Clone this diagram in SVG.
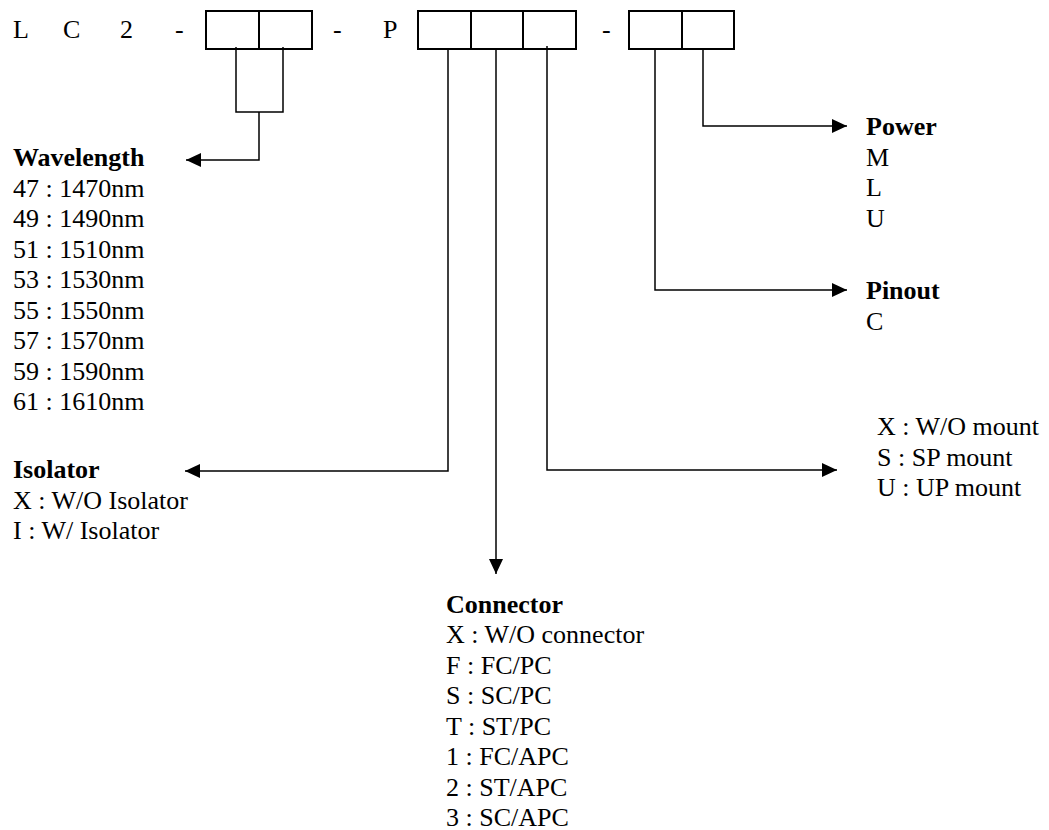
<svg xmlns="http://www.w3.org/2000/svg" width="1049" height="830" viewBox="0 0 1049 830">
<style>
text{font-family:"Liberation Serif","Times New Roman",serif;font-size:26px;fill:#000}
.b{font-weight:bold}
.box{fill:none;stroke:#000;stroke-width:2}
.ln{fill:none;stroke:#000;stroke-width:1.5}
</style>
<defs>
<marker id="ah" markerUnits="userSpaceOnUse" markerWidth="16" markerHeight="15" refX="15" refY="7" orient="auto">
<path d="M0,0 L15,7 L0,14 z" fill="#000"/>
</marker>
</defs>
<rect width="1049" height="830" fill="#fff"/>
<g id="code">
<text x="13" y="38">L</text>
<text x="63" y="38">C</text>
<text x="120" y="38">2</text>
<text x="175" y="38">-</text>
<rect class="box" x="206" y="11" width="106" height="38"/>
<line class="box" x1="259" y1="11" x2="259" y2="49"/>
<text x="333" y="38">-</text>
<text x="383" y="38">P</text>
<rect class="box" x="418" y="11" width="158" height="38"/>
<line class="box" x1="471" y1="11" x2="471" y2="49"/>
<line class="box" x1="523" y1="11" x2="523" y2="49"/>
<text x="602" y="38">-</text>
<rect class="box" x="629" y="11" width="105" height="38"/>
<line class="box" x1="682" y1="11" x2="682" y2="49"/>
</g>
<g id="connectors">
<path class="ln" d="M236,47 V112 H283 V47"/>
<path class="ln" d="M259,112 V160 H186" marker-end="url(#ah)"/>
<path class="ln" d="M448,49 V471 H185" marker-end="url(#ah)"/>
<path class="ln" d="M496,49 V574" marker-end="url(#ah)"/>
<path class="ln" d="M547,46 V470 H837" marker-end="url(#ah)"/>
<path class="ln" d="M655,49 V290 H847" marker-end="url(#ah)"/>
<path class="ln" d="M703,49 V126 H847" marker-end="url(#ah)"/>
</g>
<g id="wavelength">
<text class="b" x="13" y="166">Wavelength</text>
<text x="13" y="196.5">47 : 1470nm</text>
<text x="13" y="227">49 : 1490nm</text>
<text x="13" y="257.5">51 : 1510nm</text>
<text x="13" y="288">53 : 1530nm</text>
<text x="13" y="318.5">55 : 1550nm</text>
<text x="13" y="349">57 : 1570nm</text>
<text x="13" y="379.5">59 : 1590nm</text>
<text x="13" y="410">61 : 1610nm</text>
</g>
<g id="isolator">
<text class="b" x="13" y="478">Isolator</text>
<text x="13" y="508.5">X : W/O Isolator</text>
<text x="13" y="539">I : W/ Isolator</text>
</g>
<g id="connector">
<text class="b" x="446" y="612.5">Connector</text>
<text x="446" y="643">X : W/O connector</text>
<text x="446" y="673.5">F : FC/PC</text>
<text x="446" y="704">S : SC/PC</text>
<text x="446" y="734.5">T : ST/PC</text>
<text x="446" y="765">1 : FC/APC</text>
<text x="446" y="795.5">2 : ST/APC</text>
<text x="446" y="826">3 : SC/APC</text>
</g>
<g id="mount">
<text x="877" y="435">X : W/O mount</text>
<text x="877" y="465.5">S : SP mount</text>
<text x="877" y="496">U : UP mount</text>
</g>
<g id="pinout">
<text class="b" x="866" y="299">Pinout</text>
<text x="866" y="329.5">C</text>
</g>
<g id="power">
<text class="b" x="866" y="135">Power</text>
<text x="866" y="165.5">M</text>
<text x="866" y="196">L</text>
<text x="866" y="226.5">U</text>
</g>
</svg>
